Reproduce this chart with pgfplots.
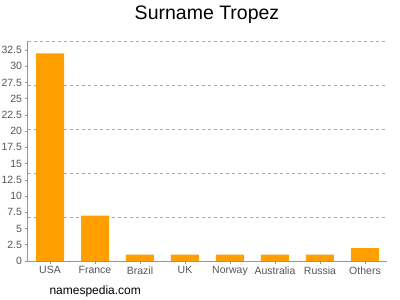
\documentclass[border=0pt]{standalone}
\usepackage{pgfplots}
\pgfplotsset{compat=1.18}
\usepackage{fontspec}
\setmainfont{Liberation Sans}
\definecolor{barorange}{RGB}{255,160,0}
\definecolor{txtgray}{RGB}{85,85,85}
\definecolor{axgray}{RGB}{150,150,150}
\definecolor{gridgray}{RGB}{170,170,170}
\begin{document}
\begin{tikzpicture}
\useasboundingbox (0pt,0pt) rectangle (400pt,300pt);
\begin{axis}[
  at={(27.5pt,39pt)}, anchor=south west,
  scale only axis, width=360pt, height=220pt,
  xmin=-0.5, xmax=7.5, ymin=0, ymax=33.9,
  xtick=data,
  xticklabels={USA,France,Brazil,UK,Norway,Australia,Russia,Others},
  ytick={0,2.5,5,7.5,10,12.5,15,17.5,20,22.5,25,27.5,30,32.5},
  yticklabels={0,2.5,5,7.5,10,12.5,15,17.5,20,22.5,25,27.5,30,32.5},
  extra y ticks={6.78,13.56,20.34,27.12,33.9},
  extra y tick labels={},
  extra y tick style={grid=major, major grid style={gridgray, dashed, line width=0.5pt}, tick style={draw=none}},
  axis x line*=bottom, axis y line*=left,
  axis line style={axgray, line width=0.6pt},
  tick style={axgray, line width=0.6pt},
  major tick length=3pt,
  tick align=outside,
  ticklabel style={font=\fontsize{10.5}{12}\selectfont, text=txtgray},
  xticklabel style={yshift=1pt},
  yticklabel style={xshift=1pt},
  /pgf/number format/assume math mode=true,
  ybar, bar width=28pt,
  clip=false,
]
\addplot[fill=barorange, draw=none] coordinates {(0,32) (1,7) (2,1) (3,1) (4,1) (5,1) (6,1) (7,2)};
\end{axis}
\node[font=\fontsize{19.5}{22}\selectfont, text=black] at (207pt,285pt) {Surname Tropez};
\node[anchor=west, font=\fontsize{12}{14}\selectfont, text=black] at (46pt,9pt) {namespedia.com};
\end{tikzpicture}
\end{document}
